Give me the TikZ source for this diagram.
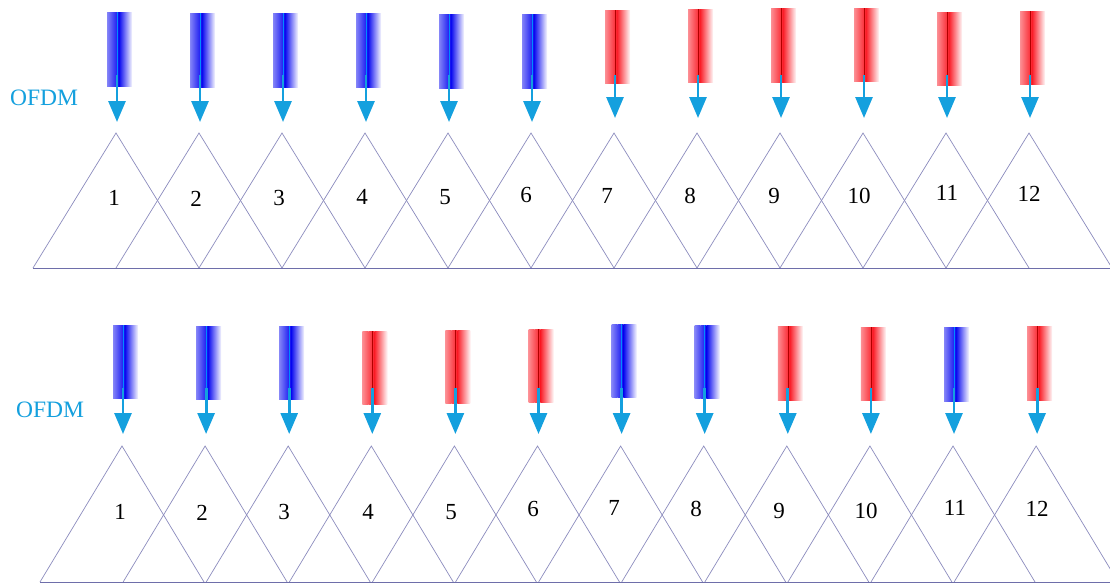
\documentclass[tikz,border=0pt]{standalone}
\usepackage{fontspec}
\setmainfont{Liberation Serif}
\usetikzlibrary{arrows.meta}
\definecolor{arrowcol}{RGB}{20,160,222}
\definecolor{tricol}{RGB}{140,140,190}
\definecolor{basecol}{RGB}{110,110,170}
\definecolor{bbar}{RGB}{10,10,240}
\definecolor{rbar}{RGB}{250,30,40}
\tikzset{
  tri/.style={draw=tricol, line width=0.7pt, line join=miter},
  basel/.style={draw=basecol, line width=0.9pt},
  fallarrow/.style={draw=arrowcol, line width=2.8pt, -{Triangle[width=17pt,length=21pt]}},
  numlabel/.style={font=\fontsize{23}{25}\selectfont, text=black, inner sep=0pt},
  ofdmlabel/.style={font=\fontsize{23.5}{26}\selectfont, text=arrowcol, inner sep=0pt}
}
% bar: #1 = center x, #2 = top y, #3 = bottom y, #4 = colour, #5 = centre-line colour
\newcommand{\gradbar}[5]{%
  \shade[left color=#4!50!white, right color=#4!75!white] (#1-10,#2) rectangle (#1-4,#3);
  \shade[left color=#4!75!white, right color=#4] (#1-4,#2) rectangle (#1+2,#3);
  \shade[left color=#4, right color=#4!3!white] (#1+2,#2) rectangle (#1+15,#3);
  \draw[#5, line width=0.6pt] (#1,#2) -- (#1,#3);
}
\begin{document}
\begin{tikzpicture}[x=1pt,y=-1pt]
\useasboundingbox (0,0) rectangle (1110,584);
\clip (0,0) rectangle (1110,584);
\fill[white] (0,0) rectangle (1110,584);

% ---------------- top row ----------------
\foreach \i/\c/\t/\b/\tip in {1/bbar/12/86/122,2/bbar/13/87/122,3/bbar/13/87/122,4/bbar/13/87/122,5/bbar/14/88/122,6/bbar/14/88/122,
  7/rbar/10/83/118,8/rbar/9/82/118,9/rbar/8/82/118,10/rbar/8/81/118,11/rbar/12/85/118,12/rbar/11/84/118}{
  \pgfmathsetmacro{\ax}{116+83*(\i-1)}
  \coordinate (ta\i) at (\ax,133);
  \draw[tri] (\ax-83,268) -- (ta\i) -- (\ax+83,268);
  \ifnum\i<7
    \gradbar{\ax+1}{\t}{\b}{bbar}{blue!45!cyan}
  \else
    \gradbar{\ax+1}{\t}{\b}{rbar}{red!70!black}
  \fi
  \coordinate (ts\i) at (\ax+1,75);
  \coordinate (te\i) at (\ax+1,\tip);
  \draw[fallarrow] (ts\i) -- (te\i);
}
\coordinate (tbl) at (33,268);
\coordinate (tbr) at (1112,268);
\draw[basel] (tbl) -- (tbr);

\foreach \n/\x/\y in {1/114/198,2/196/199,3/279/198,4/362/197,5/445/197,6/526/195,7/607/196,8/690/196,9/774/196,10/859/196,11/947/193,12/1029/194}{
  \node[numlabel] (tn\n) at (\x,\y) {\n};
}
\node[ofdmlabel] (tofdm) at (44,98) {OFDM};

% ---------------- bottom row ----------------
\foreach \i/\c/\t/\b in {1/b/325/398,2/b/326/399,3/b/326/399,4/r/331/404,5/r/330/403,6/r/329/402,
  7/b/324/397,8/b/325/398,9/r/326/400,10/r/327/400,11/b/327/401,12/r/326/400}{
  \pgfmathsetmacro{\ax}{122+83.1*(\i-1)}
  \coordinate (ba\i) at (\ax,446);
  \draw[tri] (\ax-82,582) -- (ba\i) -- (\ax+82,582);
  \if\c b
    \gradbar{\ax+1}{\t}{\b}{bbar}{blue!45!cyan}
  \else
    \gradbar{\ax+1}{\t}{\b}{rbar}{red!70!black}
  \fi
  \coordinate (bs\i) at (\ax+1,388);
  \coordinate (be\i) at (\ax+1,434);
  \draw[fallarrow] (bs\i) -- (be\i);
}
\coordinate (bbl) at (40,582);
\coordinate (bbr) at (1112,582);
\draw[basel] (bbl) -- (bbr);

\foreach \n/\x/\y in {1/120/512,2/202/513,3/284/512,4/368/512,5/451/512,6/533/509,7/614/508,8/696/509,9/779/511,10/866/511,11/955/508,12/1037/509}{
  \node[numlabel] (bn\n) at (\x,\y) {\n};
}
\node[ofdmlabel] (bofdm) at (50,410) {OFDM};
\end{tikzpicture}
\end{document}
